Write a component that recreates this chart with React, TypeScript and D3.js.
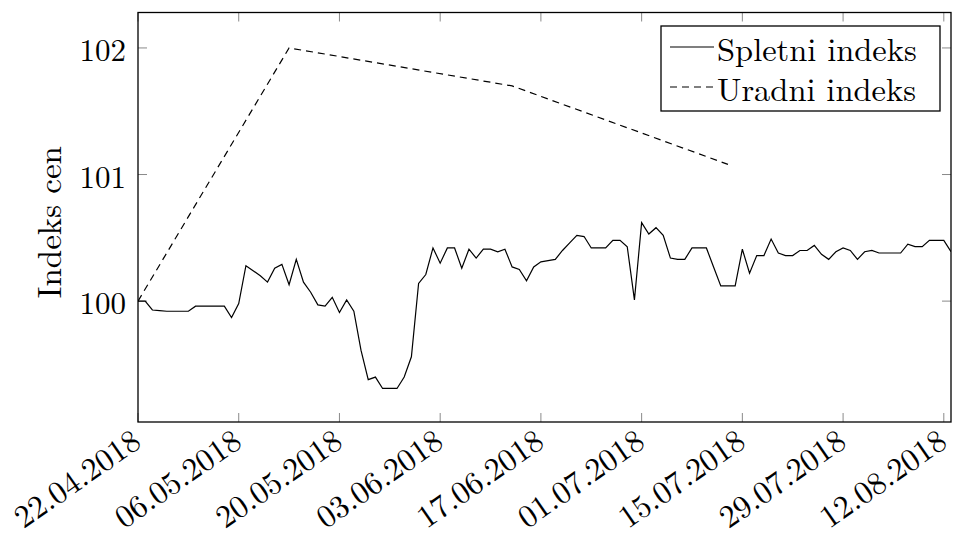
import React from "react";
import * as d3 from "d3";

// Daily online price index, starting 22.04.2018
const startDate = "2018-04-22";
const webIndex = [
  100.0, 100.0, 99.93, 99.925, 99.92, 99.92, 99.92, 99.92, 99.96, 99.96,
  99.96, 99.96, 99.96, 99.87, 99.98, 100.28, 100.24, 100.2, 100.15, 100.26,
  100.29, 100.13, 100.33, 100.15, 100.07, 99.97, 99.96, 100.03, 99.91, 100.01,
  99.92, 99.61, 99.38, 99.4, 99.31, 99.31, 99.31, 99.4, 99.56, 100.14,
  100.21, 100.42, 100.3, 100.42, 100.42, 100.26, 100.41, 100.34, 100.41, 100.41,
  100.39, 100.41, 100.27, 100.25, 100.16, 100.27, 100.31, 100.32, 100.33, 100.4,
  100.46, 100.52, 100.51, 100.42, 100.42, 100.42, 100.48, 100.48, 100.43, 100.01,
  100.62, 100.53, 100.58, 100.52, 100.34, 100.33, 100.33, 100.42, 100.42, 100.42,
  100.27, 100.12, 100.12, 100.12, 100.41, 100.22, 100.36, 100.36, 100.49, 100.38,
  100.36, 100.36, 100.4, 100.4, 100.44, 100.37, 100.33, 100.39, 100.42, 100.4,
  100.33, 100.39, 100.4, 100.38, 100.38, 100.38, 100.38, 100.45, 100.43, 100.43,
  100.48, 100.48, 100.48, 100.39,
];

// Official index, published points
const officialDates = ["2018-04-22", "2018-05-13", "2018-06-13", "2018-07-13"];
const officialIndex = [100.0, 102.0, 101.7, 101.08];

// Axis ticks
const xTickDates = [
  "2018-04-22", "2018-05-06", "2018-05-20", "2018-06-03", "2018-06-17",
  "2018-07-01", "2018-07-15", "2018-07-29", "2018-08-12",
];
const yTicks = [100, 101, 102];

const seriesNames = ["Spletni indeks", "Uradni indeks"];
const yTitle = "Indeks cen";

const W = 954;
const H = 538;
const left = 138;
const right = 951;
const top = 12.5;
const bottom = 422;
const FONT = `"Latin Modern Roman", "Liberation Serif", serif`;

const parse = d3.utcParse("%Y-%m-%d");
const fmt = d3.utcFormat("%d.%m.%Y");

export default function App() {
  const start = parse(startDate) as Date;
  const webDates = webIndex.map((_, i) => d3.utcDay.offset(start, i));
  const lastDate = webDates[webDates.length - 1];

  const x = d3.scaleUtc().domain([start, lastDate]).range([left, right]);
  const y = d3.scaleLinear().domain([99.045, 102.28]).range([bottom, top]);

  const line = d3
    .line<[Date, number]>()
    .x((d) => x(d[0]))
    .y((d) => y(d[1]));

  const webPath = line(webDates.map((d, i) => [d, webIndex[i]]) as [Date, number][]) || "";
  const offPath =
    line(officialDates.map((d, i) => [parse(d) as Date, officialIndex[i]]) as [Date, number][]) || "";

  const tickLen = 9;
  const tickColor = "#8a8a8a";

  const legX = 661;
  const legY = 26;
  const legW = 279;
  const legH = 85;

  const textStyle: React.CSSProperties = { fontFamily: FONT };

  return (
    <svg
      width={W}
      height={H}
      style={{ position: "absolute", left: 0, top: 0, background: "#fff" }}
    >
      <defs>
        <clipPath id="plot-clip">
          <rect x={left} y={top} width={right - left} height={bottom - top} />
        </clipPath>
      </defs>

      {/* x ticks (bottom and top) */}
      {xTickDates.map((d) => {
        const xx = x(parse(d) as Date);
        return (
          <g key={d}>
            <line x1={xx} x2={xx} y1={bottom} y2={bottom - tickLen} stroke={tickColor} strokeWidth={1} />
            <line x1={xx} x2={xx} y1={top} y2={top + tickLen} stroke={tickColor} strokeWidth={1} />
            <text
              transform={`translate(${xx + 1},${bottom + 18}) rotate(-35)`}
              textAnchor="end"
              dominantBaseline="middle"
              fontSize={32}
              fill="#000"
              style={textStyle}
            >
              {fmt(parse(d) as Date)}
            </text>
          </g>
        );
      })}

      {/* y ticks (left and right) */}
      {yTicks.map((v) => {
        const yy = y(v);
        return (
          <g key={v}>
            <line x1={left} x2={left + tickLen} y1={yy} y2={yy} stroke={tickColor} strokeWidth={1} />
            <line x1={right} x2={right - tickLen} y1={yy} y2={yy} stroke={tickColor} strokeWidth={1} />
            <text
              x={126}
              y={yy}
              textAnchor="end"
              dominantBaseline="central"
              fontSize={31}
              fill="#000"
              style={textStyle}
            >
              {v}
            </text>
          </g>
        );
      })}

      <text
        transform={`translate(47,${(top + bottom) / 2 + 5}) rotate(-90)`}
        textAnchor="middle"
        dominantBaseline="central"
        fontSize={33}
        fill="#000"
        style={textStyle}
      >
        {yTitle}
      </text>

      <g clipPath="url(#plot-clip)">
        <path d={webPath} fill="none" stroke="#000" strokeWidth={1.2} strokeLinejoin="miter" />
        <path d={offPath} fill="none" stroke="#000" strokeWidth={1.2} strokeDasharray="7 5" />
      </g>

      {/* frame */}
      <rect x={left} y={top} width={right - left} height={bottom - top} fill="none" stroke="#000" strokeWidth={1.3} />

      {/* legend */}
      <rect x={legX} y={legY} width={legW} height={legH} fill="#fff" stroke="#000" strokeWidth={1.3} />
      {seriesNames.map((name, i) => {
        const cy = legY + 21 + i * 40;
        return (
          <g key={name}>
            <line
              x1={legX + 9}
              x2={legX + 53}
              y1={cy}
              y2={cy}
              stroke="#000"
              strokeWidth={1.2}
              strokeDasharray={i === 1 ? "7 5" : undefined}
            />
            <text
              x={legX + 56}
              y={cy}
              dominantBaseline="central"
              fontSize={32.5}
              fill="#000"
              style={textStyle}
            >
              {name}
            </text>
          </g>
        );
      })}
    </svg>
  );
}
